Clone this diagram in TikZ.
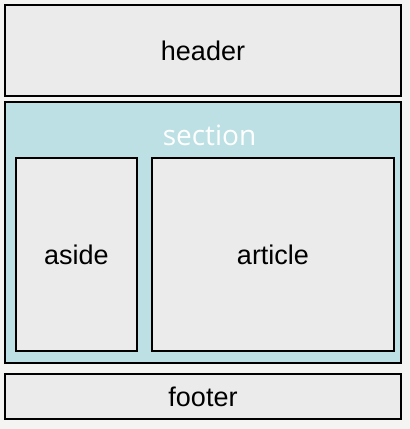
\documentclass[tikz,border=0pt]{standalone}
\usepackage{fontspec}
\setmainfont{Liberation Sans}
\newfontfamily\labelfont{Open Sans}
\definecolor{pagebg}{HTML}{F4F4F2}
\definecolor{boxgray}{HTML}{EBEBEB}
\definecolor{sectionblue}{HTML}{BCE0E3}

\begin{document}
\begin{tikzpicture}[x=1pt,y=-1pt,
    layoutbox/.style={draw,line width=1.2pt,fill=boxgray,rectangle,inner sep=0pt,font=\fontsize{27}{30}\selectfont}]
\fill [pagebg] (0,0) rectangle (410,429);
\useasboundingbox (0,0) rectangle (410,429);
\node [layoutbox,minimum width=396pt,minimum height=91pt] (header) at (203,50.5) {header};
\node [layoutbox,fill=sectionblue,minimum width=396pt,minimum height=261pt] (section) at (203,232.5) {};
\node [text=white,font=\labelfont\fontsize{28}{30}\selectfont] (sectiontitle) at (209.5,135) {section};
\node [layoutbox,minimum width=121pt,minimum height=193pt] (aside) at (76.5,254.5) {aside};
\node [layoutbox,minimum width=242pt,minimum height=193pt] (article) at (273,254.5) {article};
\node [layoutbox,minimum width=396pt,minimum height=45pt] (footer) at (203,396.5) {footer};
\end{tikzpicture}
\end{document}
